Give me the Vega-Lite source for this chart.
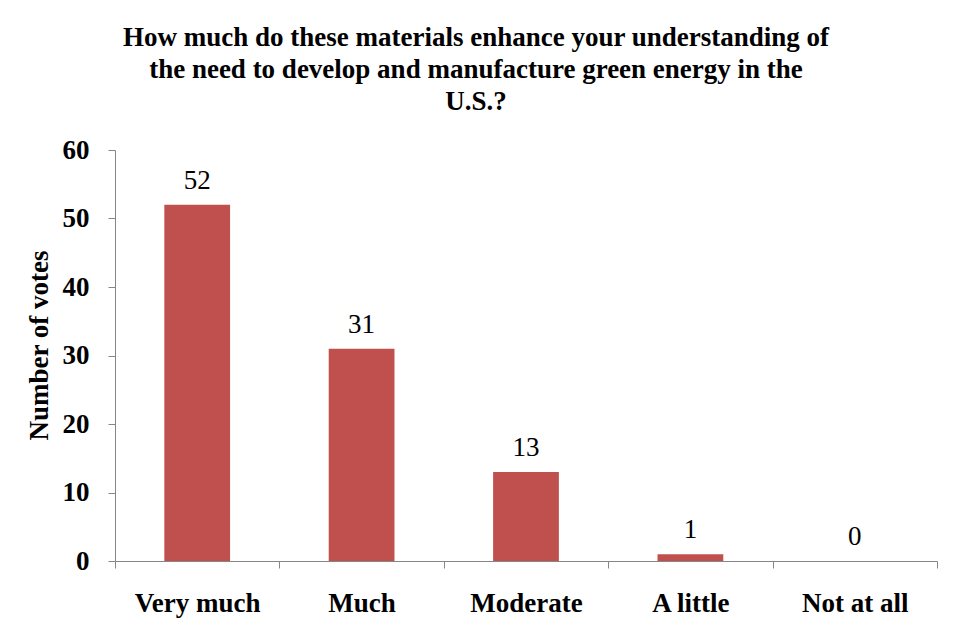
{
  "$schema": "https://vega.github.io/schema/vega-lite/v6.json",
  "autosize": "none",
  "width": 822,
  "height": 411,
  "padding": {"left": 115, "top": 150, "right": 16, "bottom": 80},
  "background": "white",
  "title": {
    "text": [
      "How much do these materials enhance your understanding of",
      "the need to develop and manufacture green energy in the",
      "U.S.?"
    ],
    "font": "Liberation Serif",
    "fontSize": 27,
    "fontWeight": "bold",
    "color": "black",
    "lineHeight": 32,
    "anchor": "middle",
    "frame": "group",
    "dx": -50,
    "offset": 20
  },
  "data": {
    "values": [
      {"response": "Very much", "votes": 52},
      {"response": "Much", "votes": 31},
      {"response": "Moderate", "votes": 13},
      {"response": "A little", "votes": 1},
      {"response": "Not at all", "votes": 0}
    ]
  },
  "encoding": {
    "x": {
      "field": "response",
      "type": "nominal",
      "sort": null,
      "scale": {"paddingInner": 0, "paddingOuter": 0},
      "axis": {
        "title": null,
        "labelAngle": 0,
        "labelFont": "Liberation Serif",
        "labelFontSize": 27,
        "labelFontWeight": "bold",
        "labelColor": "black",
        "labelPadding": 22,
        "tickBand": "extent",
        "tickSize": 7,
        "tickColor": "#868686",
        "domainColor": "#868686",
        "grid": false
      }
    },
    "y": {
      "field": "votes",
      "type": "quantitative",
      "scale": {"domain": [0, 60], "nice": false},
      "axis": {
        "title": "Number of votes",
        "titleFont": "Liberation Serif",
        "titleFontSize": 27,
        "titleFontWeight": "bold",
        "titleColor": "black",
        "titlePadding": 9,
        "titleY": 195,
        "values": [0, 10, 20, 30, 40, 50, 60],
        "labelFont": "Liberation Serif",
        "labelFontSize": 27,
        "labelFontWeight": "bold",
        "labelColor": "black",
        "labelPadding": 19,
        "tickSize": 7,
        "tickColor": "#868686",
        "domainColor": "#868686",
        "grid": false
      }
    }
  },
  "layer": [
    {
      "mark": {"type": "bar", "color": "#C0504D", "width": {"band": 0.4}}
    },
    {
      "mark": {
        "type": "text",
        "baseline": "alphabetic",
        "dy": -16,
        "font": "Liberation Serif",
        "fontSize": 27,
        "color": "black"
      },
      "encoding": {"text": {"field": "votes", "type": "quantitative"}}
    }
  ],
  "config": {"view": {"stroke": null}}
}
